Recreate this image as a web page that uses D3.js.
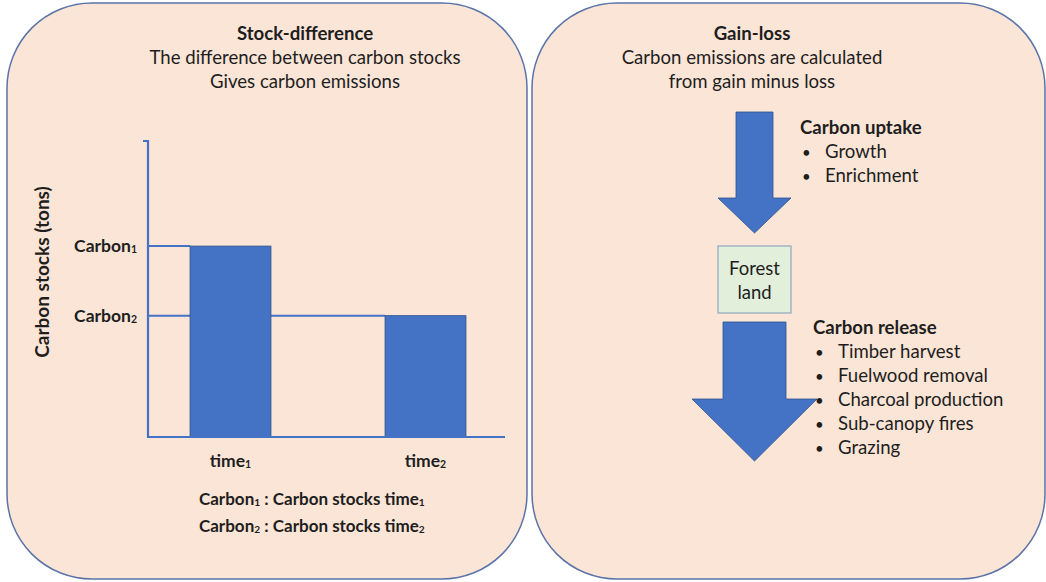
<!DOCTYPE html>
<html>
<head>
<meta charset="utf-8">
<script src="https://cdn.jsdelivr.net/npm/d3@7"></script>
<style>
  body { margin: 0; background: #fff; }
  svg text { font-family: Lato, "Open Sans", sans-serif; fill: #1e1e1e; }
</style>
</head>
<body>
<div id="chart-container"></div>
<script>
// data
const times = ["1", "2"];              // time subscripts
const stocks = [64.5, 41];             // carbon stocks at time1, time2 (relative)
const stockMax = 100;
const uptakeItems = ["Growth", "Enrichment"];
const releaseItems = ["Timber harvest", "Fuelwood removal", "Charcoal production", "Sub-canopy fires", "Grazing"];
const leftTitle = ["Stock-difference", "The difference between carbon stocks", "Gives carbon emissions"];
const rightTitle = ["Gain-loss", "Carbon emissions are calculated", "from gain minus loss"];

const W = 1046, H = 582;
const blue = "#4472C4", blueDark = "#2F528F";

const svg = d3.select("#chart-container").append("svg")
    .attr("width", W)
    .attr("height", H);

// the two rounded panels
svg.append("rect")
    .attr("x", 7).attr("y", 3).attr("width", 520).attr("height", 576)
    .attr("rx", 85).attr("ry", 85)
    .attr("fill", "#FBE5D6").attr("stroke", "#5B73A8").attr("stroke-width", 1.5);
svg.append("rect")
    .attr("x", 532).attr("y", 3).attr("width", 513).attr("height", 576)
    .attr("rx", 85).attr("ry", 85)
    .attr("fill", "#FBE5D6").attr("stroke", "#5B73A8").attr("stroke-width", 1.5);

function titleBlock(lines, cx){
    lines.forEach((t, i) => {
        svg.append("text")
            .attr("x", cx).attr("y", 40 + i * 24)
            .attr("text-anchor", "middle")
            .attr("font-size", 18.6)
            .attr("font-weight", i == 0 ? "bold" : "normal")
            .text(t);
    });
}
titleBlock(leftTitle, 305);
titleBlock(rightTitle, 752);

// label with a small subscript digit
function subLabel(sel, base, sub, rest){
    sel.append("tspan").text(base);
    sel.append("tspan").attr("font-size", "0.6em").attr("dy", 1).text(sub);
    if (rest) {
        sel.append("tspan").attr("dy", -1).text(rest[0]);
        if (rest[1]) sel.append("tspan").attr("font-size", "0.6em").attr("dy", 1).text(rest[1]);
    }
}

// ---- bar chart ----
const baseY = 437, topY = 141, axisX = 148, axisEnd = 505;
const yScale = d3.scaleLinear().domain([0, stockMax]).range([baseY, topY]);
const xScale = d3.scaleBand().domain(times).range([133, 523])
    .paddingInner(0.585).paddingOuter(0.2925);

const chart = svg.append("g");

// reference lines from axis to each bar
chart.selectAll(".ref").data(times).enter().append("line")
    .attr("x1", axisX).attr("x2", d => xScale(d))
    .attr("y1", (d, i) => yScale(stocks[i])).attr("y2", (d, i) => yScale(stocks[i]))
    .attr("stroke", blue).attr("stroke-width", 2);

chart.selectAll(".bar").data(times).enter().append("rect")
    .attr("x", d => xScale(d))
    .attr("y", (d, i) => yScale(stocks[i]))
    .attr("width", xScale.bandwidth())
    .attr("height", (d, i) => baseY - yScale(stocks[i]))
    .attr("fill", blue).attr("stroke", blueDark).attr("stroke-width", 0.8);

// axes
chart.append("path")
    .attr("d", `M${axisX - 5},${topY}H${axisX}V${baseY}H${axisEnd}`)
    .attr("fill", "none").attr("stroke", blue).attr("stroke-width", 2.2);

times.forEach((t, i) => {
    const ly = chart.append("text")
        .attr("x", 137).attr("y", yScale(stocks[i]) + 6)
        .attr("text-anchor", "end").attr("font-size", 17.5).attr("font-weight", "bold");
    subLabel(ly, "Carbon", t);
    const lx = chart.append("text")
        .attr("x", xScale(t) + xScale.bandwidth() / 2).attr("y", 467)
        .attr("text-anchor", "middle").attr("font-size", 17.5).attr("font-weight", "bold");
    subLabel(lx, "time", t);
    const lg = chart.append("text")
        .attr("x", 199).attr("y", 505 + i * 27)
        .attr("font-size", 17).attr("font-weight", "bold");
    subLabel(lg, "Carbon", t, [" : Carbon stocks time", t]);
});

chart.append("text")
    .attr("transform", `translate(49, 272) rotate(-90)`)
    .attr("text-anchor", "middle").attr("font-size", 19).attr("font-weight", "bold")
    .text("Carbon stocks (tons)");

// ---- gain-loss diagram ----
function downArrow(cx, top, shaftW, headStart, headW, tip){
    const p = d3.path();
    p.moveTo(cx - shaftW / 2, top);
    p.lineTo(cx + shaftW / 2, top);
    p.lineTo(cx + shaftW / 2, headStart);
    p.lineTo(cx + headW / 2, headStart);
    p.lineTo(cx, tip);
    p.lineTo(cx - headW / 2, headStart);
    p.lineTo(cx - shaftW / 2, headStart);
    p.closePath();
    svg.append("path").attr("d", p.toString())
        .attr("fill", blue).attr("stroke", blueDark).attr("stroke-width", 0.8);
}
downArrow(754.5, 112, 37, 198, 73, 233);
downArrow(754.5, 322, 63, 399, 125, 461);

svg.append("rect")
    .attr("x", 718).attr("y", 246).attr("width", 73).attr("height", 67)
    .attr("fill", "#E2EFDA").attr("stroke", "#8FA6C0").attr("stroke-width", 1.2);
["Forest", "land"].forEach((t, i) => {
    svg.append("text").attr("x", 754.5).attr("y", 275 + i * 24)
        .attr("text-anchor", "middle").attr("font-size", 18.5).text(t);
});

function bulletList(x, y, head, items){
    svg.append("text").attr("x", x).attr("y", y)
        .attr("font-size", 18.6).attr("font-weight", "bold").text(head);
    items.forEach((t, i) => {
        svg.append("text").attr("x", x + 2).attr("y", y + 24 * (i + 1))
            .attr("font-size", 15).text("•");
        svg.append("text").attr("x", x + 25).attr("y", y + 24 * (i + 1))
            .attr("font-size", 18.6).text(t);
    });
}
bulletList(800, 134, "Carbon uptake", uptakeItems);
bulletList(813, 334, "Carbon release", releaseItems);
</script>
</body>
</html>
